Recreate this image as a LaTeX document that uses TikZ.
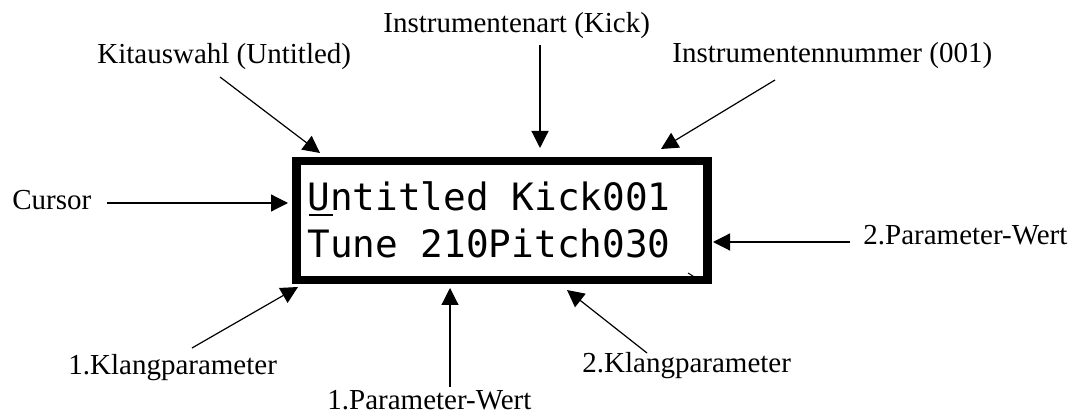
\documentclass[tikz,border=0pt]{standalone}
\usepackage{fontspec}
\setmainfont{Liberation Serif}
\newfontfamily\lcdfont{DejaVu Sans Mono}
\usetikzlibrary{arrows.meta}
\begin{document}
\begin{tikzpicture}[x=0.5pt,y=-0.5pt,
  lbl/.style={inner sep=0pt, anchor=base west, font=\fontsize{14.5}{17}\selectfont},
  lcdtext/.style={inner sep=0pt, anchor=base west, font=\lcdfont\fontsize{18.85}{22}\selectfont},
  arr/.style={line width=0.6pt, -{Triangle[length=8.5pt,width=8.5pt]}},
  lcdbox/.style={draw, line width=4.25pt, minimum width=205.4pt, minimum height=59.5pt, inner sep=0pt}
]
\useasboundingbox (0,0) rectangle (1076,416);

% partially visible heading at the top edge
\node[lbl, font=\fontsize{17}{20}\selectfont\bfseries] (play) at (-2,-7) {play};

% labels
\node[lbl] (kit) at (97,64) {Kitauswahl (Untitled)};
\node[lbl] (art) at (383,33) {Instrumentenart (Kick)};
\node[lbl] (num) at (672,63) {Instrumentennummer (001)};
\node[lbl] (cur) at (12,210) {Cursor};
\node[lbl] (pw2) at (863,245) {2.Parameter-Wert};
\node[lbl] (kp1) at (68,375) {1.Klangparameter};
\node[lbl] (pw1) at (327,410) {1.Parameter-Wert};
\node[lbl] (kp2) at (582,373) {2.Klangparameter};

% display
\node[lcdbox] (lcd) at (502.1,220.5) {};
\node[lcdtext] (l1) at (307,211) {Untitled Kick001};
\node[lcdtext] (l2) at (307,258) {Tune 210Pitch030};
\fill (309,214) rectangle (333,216.5);
\draw[line width=0.5pt] (688,273) -- (696,278);

% connector ends
\coordinate (kitS) at (220,77);  \coordinate (kitT) at (320,153);
\coordinate (artS) at (540,45);  \coordinate (artT) at (540,148);
\coordinate (numS) at (775,80);  \coordinate (numT) at (661,149);
\coordinate (curS) at (107,203); \coordinate (curT) at (288,203);
\coordinate (pw2S) at (850,242); \coordinate (pw2T) at (713,242);
\coordinate (kp1S) at (192,348); \coordinate (kp1T) at (298,287);
\coordinate (pw1S) at (450,387); \coordinate (pw1T) at (450,288);
\coordinate (kp2S) at (647,353); \coordinate (kp2T) at (567,290);

\draw[arr] (kitS) -- (kitT);
\draw[arr] (artS) -- (artT);
\draw[arr] (numS) -- (numT);
\draw[arr] (curS) -- (curT);
\draw[arr] (pw2S) -- (pw2T);
\draw[arr] (kp1S) -- (kp1T);
\draw[arr] (pw1S) -- (pw1T);
\draw[arr] (kp2S) -- (kp2T);
\end{tikzpicture}
\end{document}
